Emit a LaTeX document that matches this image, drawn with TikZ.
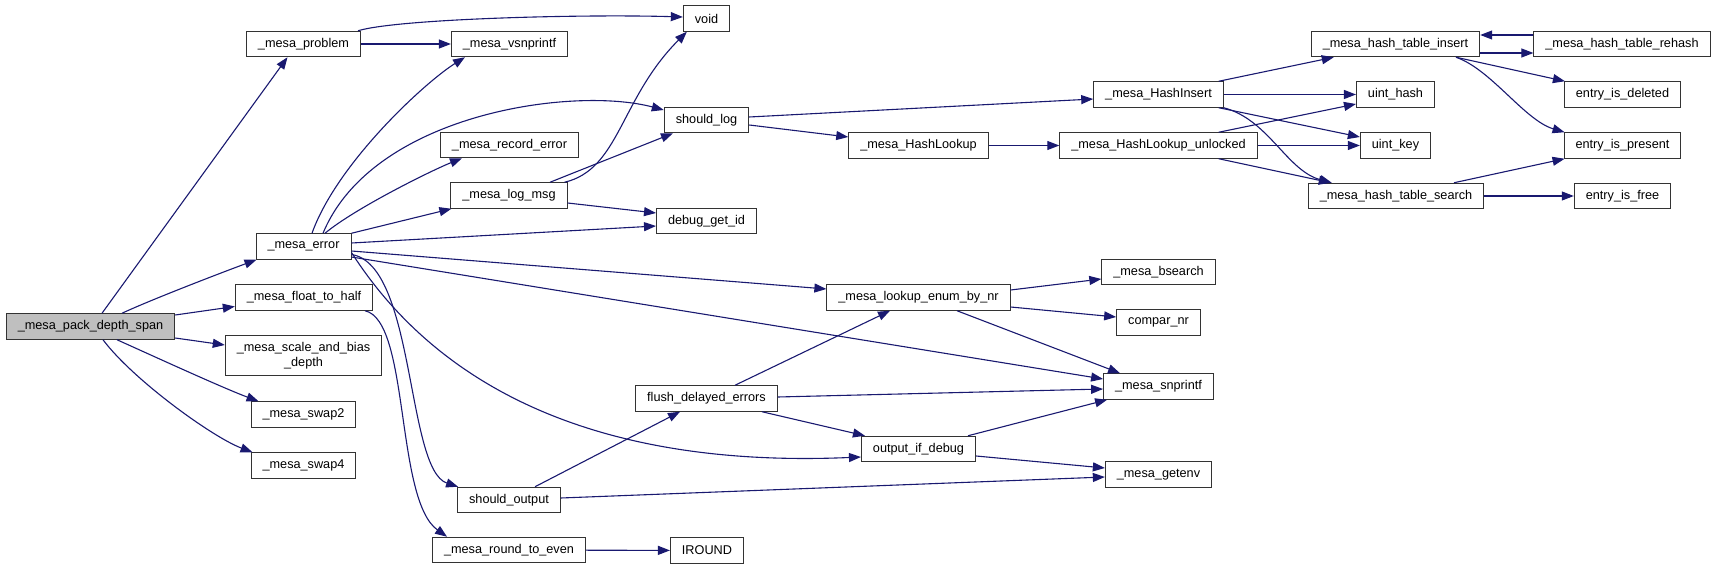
\documentclass[tikz,border=0pt]{standalone}
\usepackage{fontspec}
\setmainfont{Liberation Sans}
\usepackage{tikz}
\usetikzlibrary{positioning, arrows.meta}

\definecolor{navyedge}{HTML}{191970}
\newcommand{\fnfont}{\fontsize{12.7}{15}\selectfont}

\begin{document}
\begin{tikzpicture}[x=1pt, y=-1pt,
    fn/.style={draw=black!80, line width=1pt, fill=white, font=\fnfont, inner xsep=11.5pt, inner ysep=0pt, minimum height=25.5pt},
    call/.style={draw=navyedge, line width=1.1pt, -{Triangle[length=12pt, width=9pt]}}]
\useasboundingbox (0,0) rectangle (1717,569);

% Functions
\node[fn, fill=gray!50] (pack) at (90.5,326.5) {\_mesa\_pack\_depth\_span};

\node[fn] (problem) at (303.5,44) {\_mesa\_problem};
\node[fn] (error) at (303.5,246.5) {\_mesa\_error};
\node[fn] (half) at (304,297.5) {\_mesa\_float\_to\_half};
\node[fn, align=center, minimum height=40pt] (scale) at (303.5,356) {\_mesa\_scale\_and\_bias\\\_depth};
\node[fn] (swap2) at (303.5,414.5) {\_mesa\_swap2};
\node[fn] (swap4) at (303.5,465.5) {\_mesa\_swap4};

\node[fn] (vsn) at (509.5,44) {\_mesa\_vsnprintf};
\node[fn] (record) at (509.5,145) {\_mesa\_record\_error};
\node[fn] (logmsg) at (509,195.5) {\_mesa\_log\_msg};
\node[fn] (shouldout) at (509,500) {should\_output};
\node[fn] (roundeven) at (509,550) {\_mesa\_round\_to\_even};

\node[fn] (void) at (706.5,18.5) {void};
\node[fn] (shouldlog) at (706.5,120) {should\_log};
\node[fn] (debug) at (706.5,221) {debug\_get\_id};
\node[fn] (flush) at (706.5,398.5) {flush\_delayed\_errors};
\node[fn] (iround) at (707,550.5) {IROUND};

\node[fn] (hlookup) at (918.5,145.5) {\_mesa\_HashLookup};
\node[fn] (lookup) at (918.5,297.5) {\_mesa\_lookup\_enum\_by\_nr};
\node[fn] (outdebug) at (918.5,449) {output\_if\_debug};

\node[fn] (hinsert) at (1158.5,94.5) {\_mesa\_HashInsert};
\node[fn] (hunlocked) at (1158.5,145.5) {\_mesa\_HashLookup\_unlocked};
\node[fn] (bsearch) at (1158.5,272) {\_mesa\_bsearch};
\node[fn] (compar) at (1158.5,322.5) {compar\_nr};
\node[fn] (snprintf) at (1158.5,386.5) {\_mesa\_snprintf};
\node[fn] (getenv) at (1158.5,474.5) {\_mesa\_getenv};

\node[fn] (tinsert) at (1395.5,44) {\_mesa\_hash\_table\_insert};
\node[fn] (uhash) at (1395.5,94.5) {uint\_hash};
\node[fn] (ukey) at (1395.5,145.5) {uint\_key};
\node[fn] (tsearch) at (1396,196) {\_mesa\_hash\_table\_search};

\node[fn] (rehash) at (1622,44) {\_mesa\_hash\_table\_rehash};
\node[fn] (deleted) at (1622.5,94.5) {entry\_is\_deleted};
\node[fn] (present) at (1622.5,145.5) {entry\_is\_present};
\node[fn] (free) at (1622.5,196) {entry\_is\_free};

% Calls from _mesa_pack_depth_span
\draw[call] ([xshift=11.5pt]pack.north) -- ([xshift=-16pt]problem.south);
\draw[call] ([xshift=31.5pt]pack.north) .. controls +(30,-14) and +(-30,11) .. ([xshift=1pt]error.south west);
\draw[call] ([yshift=11.5pt]pack.east) -- ([yshift=-9pt]half.west);
\draw[call] ([yshift=-11.5pt]pack.east) -- ([yshift=11pt]scale.west);
\draw[call] ([xshift=26.5pt]pack.south) .. controls +(40,18) and +(-35,-13) .. ([xshift=8pt]swap2.north west);
\draw[call] ([xshift=12.5pt]pack.south) .. controls +(30,40) and +(-40,-15) .. ([xshift=2pt]swap4.north west);

% _mesa_problem
\draw[call] (problem) -- (vsn);
\draw[call] ([xshift=-3pt]problem.north east) .. controls +(40,-12) and +(-100,-3) .. ([yshift=1.5pt]void.west);

% _mesa_error
\draw[call] ([xshift=8.5pt]error.north) .. controls +(25,-70) and +(-40,25) .. ([xshift=-44.5pt]vsn.south);
\draw[call] ([xshift=19.5pt]error.north) .. controls +(50,-120) and +(-90,-24) .. ([yshift=10pt]shouldlog.west);
\draw[call] ([xshift=21.5pt]error.north) .. controls +(30,-25) and +(-30,12) .. ([xshift=-47.5pt]record.south);
\draw[call] (error.north east) -- ([xshift=1pt]logmsg.south west);
\draw[call] ([yshift=3.5pt]error.east) -- ([yshift=-5pt]debug.west);
\draw[call] ([yshift=-4.5pt]error.east) -- ([yshift=8.5pt]lookup.west);
\draw[call] ([yshift=-10.5pt]error.east) -- ([yshift=7.5pt]snprintf.west);
\draw[call] ([yshift=-8pt]error.east) .. controls +(64,10) and +(-52,-17) .. ([xshift=1pt]shouldout.north west);
\draw[call] ([yshift=-6pt]error.east) .. controls +(69,108) and +(-301,13) .. ([yshift=-8pt]outdebug.west);

% _mesa_log_msg
\draw[call] ([xshift=-3pt]logmsg.north east) .. controls +(55,-13) and +(-67,67) .. ([xshift=4pt]void.south west);
\draw[call] ([xshift=41pt]logmsg.north) -- ([xshift=-33.5pt]shouldlog.south);
\draw[call] ([yshift=-7.5pt]logmsg.east) -- ([yshift=8pt]debug.west);

% should_log
\draw[call] ([yshift=3pt]shouldlog.east) -- ([yshift=-4.5pt]hinsert.west);
\draw[call] ([yshift=-5pt]shouldlog.east) -- ([yshift=8.5pt]hlookup.west);
\draw[call] (hlookup) -- (hunlocked);

% _mesa_HashInsert
\draw[call] ([xshift=-5pt]hinsert.north east) -- ([xshift=23pt]tinsert.south west);
\draw[call] (hinsert) -- (uhash);
\draw[call] ([xshift=-5pt]hinsert.south east) -- ([yshift=8.5pt]ukey.west);
\draw[call] (hinsert.south east) .. controls +(45,12) and +(-45,-12) .. ([xshift=24pt]tsearch.north west);

% _mesa_HashLookup_unlocked
\draw[call] ([xshift=-39pt]hunlocked.north east) -- ([yshift=-9.5pt]uhash.west);
\draw[call] (hunlocked) -- (ukey);
\draw[call] ([xshift=-39pt]hunlocked.south east) -- ([xshift=23pt]tsearch.north west);

% hash table
\draw[call] ([yshift=-9pt]tinsert.east) -- ([yshift=-9pt]rehash.west);
\draw[call] ([yshift=9pt]rehash.west) -- ([yshift=9pt]tinsert.east);
\draw[call] ([xshift=60.5pt]tinsert.south) -- ([xshift=1pt]deleted.north west);
\draw[call] ([xshift=60.5pt]tinsert.south) .. controls +(35,12) and +(-40,-12) .. ([xshift=1pt]present.north west);
\draw[call] ([xshift=58pt]tsearch.north) -- ([xshift=1pt]present.south west);
\draw[call] (tsearch) -- (free);

% _mesa_lookup_enum_by_nr
\draw[call] ([yshift=7.5pt]lookup.east) -- ([yshift=-7pt]bsearch.west);
\draw[call] ([yshift=-9.5pt]lookup.east) -- ([yshift=5.5pt]compar.west);
\draw[call] ([xshift=38.5pt]lookup.south) -- ([xshift=17pt]snprintf.north west);

% flush_delayed_errors
\draw[call] ([xshift=28.5pt]flush.north) -- ([xshift=-28.5pt]lookup.south);
\draw[call] ([yshift=1.5pt]flush.east) -- ([yshift=-2.5pt]snprintf.west);
\draw[call] ([xshift=55.5pt]flush.south) -- ([xshift=4pt]outdebug.north west);

% output_if_debug
\draw[call] ([xshift=-8pt]outdebug.north east) -- ([xshift=4pt]snprintf.south west);
\draw[call] ([yshift=-7pt]outdebug.east) -- ([yshift=6.5pt]getenv.west);

% should_output
\draw[call] ([xshift=26pt]shouldout.north) -- ([xshift=-26.5pt]flush.south);
\draw[call] ([yshift=2pt]shouldout.east) -- ([yshift=-2.5pt]getenv.west);

% rounding
\draw[call] (roundeven) -- (iround);
\draw[call] ([xshift=61pt]half.south) .. controls +(45,10) and +(-52,-37) .. ([xshift=15pt]roundeven.north west);
\end{tikzpicture}
\end{document}
